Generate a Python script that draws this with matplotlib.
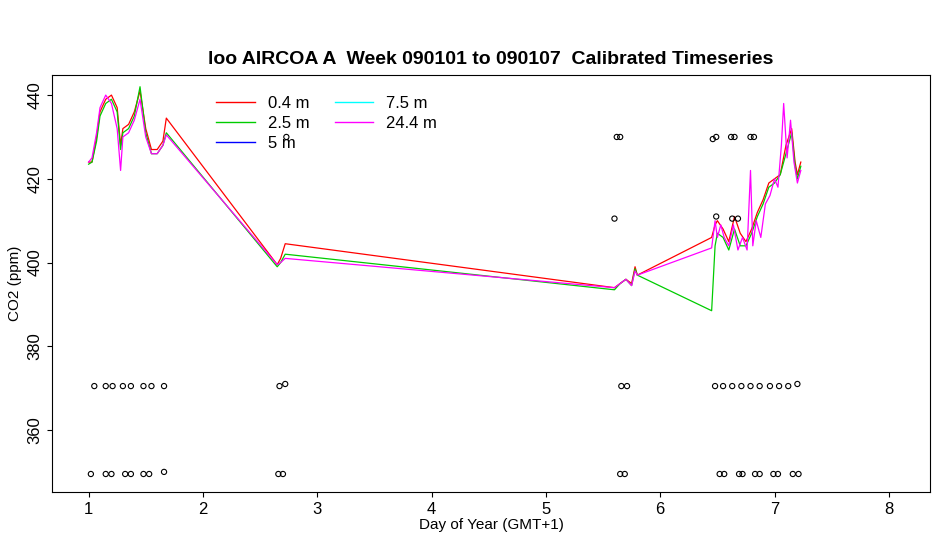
import matplotlib
matplotlib.use("Agg")
import matplotlib.pyplot as plt
plt.rcParams['font.family'] = ['Liberation Sans', 'DejaVu Sans']

t_red = [1.00,1.03,1.07,1.10,1.15,1.20,1.25,1.28,1.30,1.35,1.40,1.45,1.50,1.55,1.60,1.65,1.68,
         2.65,2.68,2.72,
         5.60,5.65,5.70,5.75,5.78,5.80,
         6.45,6.48,6.50,6.55,6.60,6.65,6.70,6.75,6.80,6.85,6.90,6.95,7.00,7.05,7.10,7.15,7.18,7.20,7.23]
v_red = [424,424,430,436,439,440,437,428,432,433,436,441,432,427,427,429,434.5,
         399.5,401,404.5,
         394,395,396,395,399,397,
         406,409,410,408,405,411,407,405,408,412,415,419,420,421,428,432,424,421,424]
t_green = t_red
v_green = [423.5,424,429,435,438,439,436,427,431,432,435,442,431,426,426,428,431,
           399,400,402,
           393.5,395,396,394.5,398.5,397,
           388.5,404,407,406,403,408,404,404,407,411,414,418,419,421,426,431,423,420,423]
t_mag = [1.00,1.03,1.07,1.10,1.15,1.20,1.25,1.28,1.30,1.35,1.40,1.45,1.50,1.55,1.60,1.65,1.68,
         2.65,2.68,2.72,
         5.60,5.65,5.70,5.75,5.78,5.80,
         6.45,6.48,6.50,6.53,6.56,6.60,6.64,6.68,6.72,6.76,6.79,6.81,6.84,6.88,6.92,6.96,7.00,7.03,7.06,7.08,7.11,7.14,7.17,7.20,7.23]
v_mag = [424,425,431,437,440,438,432,422,430,431,434,439,430,426,426,428,430.5,
         399.5,400,401,
         394,395,396,394.5,398,397,
         403.5,410,406,409,406,404,409,403,406,403,422,404,410,406,414,416,420,418,428,438,425,434,424,419,422]

c_low_x = [1.05,1.15,1.21,1.30,1.37,1.48,1.55,1.66,2.67,2.72,5.66,5.71,6.48,6.55,6.63,6.71,6.79,6.87,6.96,7.04,7.12,7.20]
c_low_y = [370.5]*8 + [370.5,371] + [370.5,370.5] + [370.5]*9 + [371]
c_bot_x = [1.02,1.15,1.20,1.32,1.37,1.48,1.53,1.66,2.66,2.70,5.65,5.69,6.52,6.56,6.69,6.72,6.83,6.87,6.99,7.03,7.16,7.21]
c_bot_y = [349.5]*7 + [350] + [349.5]*14
c_up_x = [2.73,5.62,5.65,6.46,6.49,6.62,6.65,6.79,6.82]
c_up_y = [430,430,430,429.5,430,430,430,430,430]
c_mid_x = [5.60,6.49,6.63,6.68]
c_mid_y = [410.5,411,410.5,410.5]

fig = plt.figure(figsize=(9.5,5.5), dpi=100)
ax = fig.add_axes([52/950, 1-492/550, (930-52)/950, (492-75)/550])
ax.plot(t_red, v_red, color='red', lw=0.9)
ax.plot(t_green, v_green, color='#00cc00', lw=0.9)
ax.plot(t_mag, v_mag, color='magenta', lw=0.9)
for xs, ys in [(c_low_x,c_low_y),(c_bot_x,c_bot_y),(c_up_x,c_up_y),(c_mid_x,c_mid_y)]:
    ax.scatter(xs, ys, s=14, facecolors='none', edgecolors='black', linewidths=0.8, zorder=5)
ax.set_xlim(0.68, 8.36)
ax.set_ylim(345.2, 444.8)
ax.set_xticks(range(1,9))
ax.set_yticks([360,380,400,420,440])
ax.tick_params(axis='y', labelrotation=90)
for lab in ax.get_yticklabels():
    lab.set_va('center')
ax.tick_params(labelsize=12)
ax.set_xlabel('Day of Year (GMT+1)', fontsize=11, labelpad=1)
ax.set_ylabel('CO2 (ppm)', fontsize=11)
ax.set_title('loo AIRCOA A  Week 090101 to 090107  Calibrated Timeseries', fontsize=14, fontweight='bold', pad=8)
names = ['0.4 m','2.5 m','5 m','7.5 m','24.4 m']
cols = ['red','#00cc00','blue','cyan','magenta']
hs = [plt.Line2D([],[],color=c,lw=1) for c in cols]
ax.legend(hs, names, ncol=2, loc='upper left', bbox_to_anchor=(0.17,0.985), frameon=False,
          fontsize=12, handlelength=2.3, labelspacing=0.3, columnspacing=1.5)
fig.savefig('out.png', dpi=100)
